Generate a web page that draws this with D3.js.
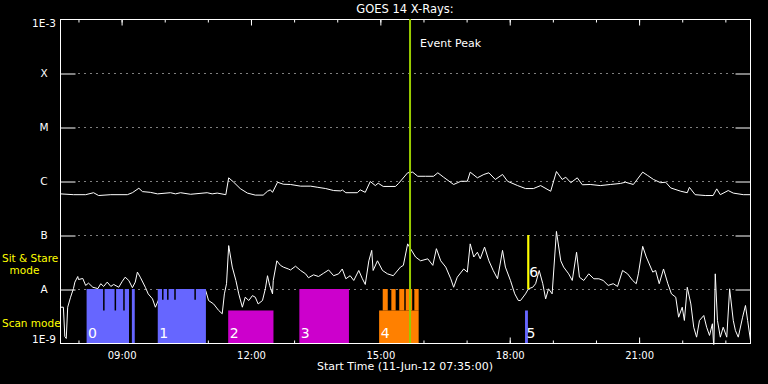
<!DOCTYPE html>
<html lang="en">
<head>
<meta charset="UTF-8">
<title>GOES 14 X-Rays</title>
<script src="https://cdn.jsdelivr.net/npm/d3@7"></script>
<style>
  body { margin: 0; background: #000; }
  svg { display: block; }
  text { font-family: "DejaVu Sans", sans-serif; fill: #fff; }
</style>
</head>
<body>
<svg id="chart" width="768" height="384"></svg>
<script>
const day = "2012-06-11";
const startTime = "07:35";
const endTime = "23:35";
const peakTime = "15:42";

const levelNames = ["1E-9", "A", "B", "C", "M", "X", "1E-3"];
const levelFlux = [1e-9, 1e-8, 1e-7, 1e-6, 1e-5, 1e-4, 1e-3];

// 1-8 A channel
const longTimes = ["07:35","07:53","08:10","08:21","08:28","08:45","09:08","09:15","09:24","09:29","09:40","09:50","10:08","10:15","10:22","10:36","10:59","11:06","11:13","11:25","11:29","11:36","11:45","11:55","12:06","12:17","12:23","12:27","12:30","12:37","12:45","12:55","13:09","13:23","13:33","13:44","13:55","14:05","14:07","14:12","14:28","14:32","14:39","14:46","14:53","14:57","15:04","15:21","15:25","15:38","15:45","15:52","16:03","16:14","16:20","16:28","16:42","16:52","17:01","17:05","17:15","17:24","17:31","17:40","17:50","17:57","18:11","18:22","18:33","18:43","18:57","19:05","19:13","19:18","19:25","19:34","19:41","19:52","20:06","20:20","20:34","20:41","20:52","21:05","21:12","21:20","21:30","21:37","21:44","21:58","22:07","22:10","22:18","22:32","22:43","22:48","22:53","23:04","23:11","23:25","23:35"];
const longFlux = [5.9e-7,5.7e-7,5.7e-7,6.2e-7,5.5e-7,5.7e-7,5.7e-7,6.2e-7,7.5e-7,6.5e-7,6.3e-7,5.9e-7,6.2e-7,5.9e-7,6.2e-7,5.8e-7,6.2e-7,5.9e-7,6.1e-7,5.7e-7,1.17e-6,9.7e-7,7.4e-7,6.1e-7,5.6e-7,5.6e-7,6.6e-7,7.0e-7,6.3e-7,9.7e-7,8.9e-7,8.8e-7,8.2e-7,8.2e-7,7.8e-7,7.4e-7,6.8e-7,6.7e-7,7.0e-7,6.2e-7,6.2e-7,7.0e-7,6.3e-7,1.0e-6,8.4e-7,9.3e-7,8.1e-7,8.1e-7,9.1e-7,1.45e-6,1.49e-6,1.25e-6,1.25e-6,1.25e-6,1.45e-6,1.2e-6,8.8e-7,1.01e-6,1.01e-6,1.49e-6,1.17e-6,1.35e-6,1.45e-6,1.09e-6,1.35e-6,1.01e-6,8.4e-7,7.4e-7,7.4e-7,8.4e-7,6.6e-7,1.53e-6,1.09e-6,1.2e-6,9.5e-7,1.17e-6,8.7e-7,8.8e-7,8.4e-7,8.8e-7,9.2e-7,9.7e-7,8.8e-7,1.49e-6,1.29e-6,1.09e-6,9.5e-7,9.7e-7,7.6e-7,6.6e-7,6.2e-7,7.8e-7,5.7e-7,5.5e-7,5.5e-7,7.3e-7,5.7e-7,6.8e-7,6.1e-7,5.7e-7,5.7e-7];

// 0.5-4 A channel
const shortTimes = ["07:35","07:39","07:41","07:43","07:45","07:49","07:53","07:55","07:59","08:00","08:06","08:10","08:14","08:20","08:27","08:31","08:35","08:40","08:45","08:49","08:56","09:01","09:05","09:10","09:15","09:19","09:22","09:26","09:33","09:37","09:43","09:47","09:51","09:57","10:01","10:05","10:11","10:15","10:19","10:25","10:29","10:33","10:39","10:43","10:46","10:48","10:53","10:57","11:01","11:08","11:15","11:20","11:23","11:26","11:29","11:34","11:39","11:43","11:48","11:52","11:57","12:02","12:06","12:10","12:16","12:20","12:23","12:26","12:30","12:31","12:36","12:41","12:45","12:52","12:55","13:02","13:09","13:16","13:20","13:27","13:34","13:41","13:48","13:55","14:02","14:07","14:12","14:18","14:23","14:30","14:35","14:39","14:44","14:48","14:50","14:56","15:03","15:10","15:18","15:28","15:32","15:38","15:42","15:49","15:56","16:06","16:13","16:18","16:24","16:31","16:38","16:42","16:47","16:56","17:01","17:05","17:10","17:15","17:19","17:25","17:31","17:37","17:43","17:50","17:54","18:01","18:07","18:12","18:15","18:22","18:26","18:32","18:36","18:41","18:46","18:50","18:54","18:59","19:05","19:11","19:15","19:22","19:27","19:33","19:37","19:43","19:50","19:57","20:04","20:10","20:17","20:24","20:30","20:37","20:44","20:51","20:56","20:59","21:05","21:10","21:19","21:23","21:28","21:34","21:40","21:45","21:51","21:55","22:00","22:03","22:07","22:12","22:16","22:20","22:24","22:30","22:34","22:38","22:42","22:44","22:46","22:49","22:53","22:57","23:02","23:06","23:11","23:14","23:18","23:24","23:28","23:31","23:35"];
const shortFlux = [4.7e-9,4.7e-9,1.35e-9,1.24e-9,4.7e-9,7.2e-9,1.04e-8,1.37e-8,1.74e-8,1.53e-8,1.6e-8,1.19e-8,1.31e-8,1.1e-8,1.04e-8,1.28e-8,1.14e-8,1.37e-8,1.14e-8,1.24e-8,1.1e-8,1.42e-8,1.69e-8,1.47e-8,1.08e-8,1.37e-8,2.1e-8,1.69e-8,1.1e-8,8.3e-9,6.7e-9,4.7e-9,6.25e-9,9.6e-9,4.7e-9,7.2e-9,5.4e-9,8.9e-9,5.4e-9,8.3e-9,5.8e-9,8.9e-9,4.7e-9,7.2e-9,1.74e-9,6.25e-9,8.9e-9,9.6e-9,6.25e-9,5.4e-9,4.1e-9,3.55e-9,8.3e-9,1.28e-8,6.5e-8,2.6e-8,1.47e-8,8.3e-9,4.7e-9,7.2e-9,6.25e-9,7.7e-9,7.2e-9,5.4e-9,6.25e-9,1.03e-8,1.8e-8,1.19e-8,8.3e-9,1.47e-8,3.4e-8,2.8e-8,2.6e-8,2.4e-8,2.3e-8,2.7e-8,2.25e-8,1.95e-8,1.65e-8,1.87e-8,1.74e-8,2.0e-8,2.3e-8,1.8e-8,1.95e-8,2.4e-8,1.58e-8,1.8e-8,1.47e-8,2.25e-8,1.58e-8,1.24e-8,3.4e-8,5.3e-8,2.25e-8,3.4e-8,2.25e-8,1.95e-8,1.8e-8,2.6e-8,2.8e-8,7.0e-8,5.7e-8,4.0e-8,3.4e-8,3.7e-8,2.8e-8,5.7e-8,3.4e-8,2.6e-8,1.58e-8,1.1e-8,1.69e-8,2.4e-8,2.1e-8,7.0e-8,4.0e-8,4.9e-8,3.7e-8,6.1e-8,3.4e-8,2.25e-8,1.58e-8,5.3e-8,2.6e-8,1.47e-8,8.3e-9,6.25e-9,6.25e-9,8.3e-9,1.03e-8,1.1e-8,1.28e-8,2.25e-8,1.28e-8,6.7e-9,1.03e-8,8.3e-9,1.19e-7,3.4e-8,2.6e-8,1.95e-8,1.47e-8,4.9e-8,1.69e-8,1.47e-8,1.95e-8,1.58e-8,1.58e-8,1.47e-8,1.19e-8,1.28e-8,1.14e-8,2.25e-8,1.95e-8,1.47e-8,1.28e-8,1.95e-8,6.3e-8,4.0e-8,2.1e-8,2.25e-8,1.28e-8,2.4e-8,1.28e-8,8.3e-9,7.2e-9,3.07e-9,4.7e-9,2.67e-9,1.1e-8,5.4e-9,2.0e-9,1.31e-9,2.67e-9,3.3e-9,2.0e-9,1.41e-9,2.32e-9,8e-10,1.95e-8,2.67e-9,1.31e-9,2.0e-9,1.31e-9,1.03e-8,2.67e-9,1.74e-9,1.31e-9,3.07e-9,5.06e-9,2.67e-9,1.14e-9];

// observation blocks: program number, start/end time, flux range of the bar
const obsProgram = [0, 0, 1, 2, 3, 4, 4, 4, 4, 4, 4, 5, 6];
const obsStart = ["08:12","09:15","09:51","11:29","13:08","14:59","15:04","15:16","15:27","15:36","15:48","18:22","18:25"];
const obsEnd   = ["09:11","09:19","10:58","12:32","14:17","15:54","15:11","15:22","15:34","15:45","15:54","18:26","18:28"];
const obsTop    = [1e-8, 1e-8, 1e-8, 4e-9, 1e-8, 4e-9, 1e-8, 1e-8, 1e-8, 1e-8, 1e-8, 4e-9, 1e-7];
const obsBottom = [1e-9, 1e-9, 1e-9, 1e-9, 1e-9, 1e-9, 4e-9, 4e-9, 4e-9, 4e-9, 4e-9, 1e-9, 1e-8];

// short data gaps inside blocks 0 and 1
const gapTimes = ["08:36","08:52","09:04","09:58","10:05","10:15","10:43"];
const gapDepth = [4e-9, 4e-9, 4e-9, 6.3e-9, 6.3e-9, 6.3e-9, 6.3e-9];

const programColor = ["#6666ff", "#6666ff", "#cc00cc", "#cc00cc", "#ff8000", "#6666ff", "#ffff00"];

const parse = s => d3.utcParse("%Y-%m-%d %H:%M")(day + " " + s);

const pL = 60, pR = 750, pT = 19, pB = 343;

const x = d3.scaleUtc()
    .domain([parse(startTime), parse(endTime)])
    .range([pL, pR]);
const y = d3.scaleLog()
    .domain([1e-9, 1e-3])
    .range([pB, pT]);

const svg = d3.select("#chart");
svg.append("rect").attr("width", 768).attr("height", 384).attr("fill", "#000");

svg.append("clipPath").attr("id", "plot")
  .append("rect")
    .attr("x", pL).attr("y", pT)
    .attr("width", pR - pL).attr("height", pB - pT + 1);

const g = svg.append("g").attr("transform", "translate(0.5,0.5)");

// dotted level lines with short solid ticks at both ends
const levels = levelFlux.slice(1, -1);
g.selectAll("line.dots").data(levels).enter().append("line")
    .attr("class", "dots")
    .attr("x1", pL + 18).attr("x2", pR - 15)
    .attr("y1", d => Math.round(y(d))).attr("y2", d => Math.round(y(d)))
    .attr("stroke", "#fff").attr("stroke-dasharray", "1 5");

const yAxisL = d3.axisLeft(y).tickValues(levels).tickSize(-15).tickFormat("");
const yAxisR = d3.axisRight(y).tickValues(levels).tickSize(-15).tickFormat("");
g.append("g").attr("transform", `translate(${pL},0)`).call(yAxisL);
g.append("g").attr("transform", `translate(${pR},0)`).call(yAxisR);

// observation bars
const obs = obsProgram.map((p, i) => ({
  p: p, t0: parse(obsStart[i]), t1: parse(obsEnd[i]), hi: obsTop[i], lo: obsBottom[i]
}));
svg.append("g").attr("clip-path", "url(#plot)")
  .selectAll("rect").data(obs.filter(d => d.p !== 6)).enter().append("rect")
    .attr("x", d => x(d.t0))
    .attr("width", d => x(d.t1) - x(d.t0))
    .attr("y", d => y(d.hi))
    .attr("height", d => y(d.lo) - y(d.hi))
    .attr("fill", d => programColor[d.p]);

const gaps = gapTimes.map((t, i) => ({ t: parse(t), depth: gapDepth[i] }));
svg.append("g").selectAll("line").data(gaps).enter().append("line")
    .attr("x1", d => x(d.t)).attr("x2", d => x(d.t))
    .attr("y1", y(1e-8)).attr("y2", d => y(d.depth))
    .attr("stroke", "#000").attr("stroke-width", 1.5);

// flux curves
const line = d3.line().x(d => x(d[0])).y(d => y(d[1]));
const series = [
  d3.zip(longTimes.map(parse), longFlux),
  d3.zip(shortTimes.map(parse), shortFlux)
];
g.append("g").attr("clip-path", "url(#plot)")
  .selectAll("path").data(series).enter().append("path")
    .attr("d", line)
    .attr("fill", "none")
    .attr("stroke", "#fff")
    .attr("stroke-width", 1)
    .attr("stroke-linejoin", "round");

// sit & stare bar drawn over the curve
svg.append("g").selectAll("rect").data(obs.filter(d => d.p === 6)).enter().append("rect")
    .attr("x", d => x(d.t0))
    .attr("width", d => x(d.t1) - x(d.t0))
    .attr("y", d => y(d.hi))
    .attr("height", d => y(d.lo) - y(d.hi))
    .attr("fill", d => programColor[d.p]);

// program numbers at the start of each program
const firsts = obs.filter((d, i) => obsProgram.indexOf(d.p) === i);
svg.append("g").selectAll("text").data(firsts).enter().append("text")
    .attr("x", d => x(d.t0) + (d.p === 6 ? 2 : 1.5))
    .attr("y", d => d.p === 6 ? y(d.lo) - 12 : y(d.lo) - 5)
    .attr("font-size", 14)
    .text(d => d.p);

// event peak
const px = x(parse(peakTime));
svg.append("line")
    .attr("x1", px).attr("x2", px).attr("y1", pT).attr("y2", pB)
    .attr("stroke", "#99cc00").attr("stroke-width", 2);
svg.append("text").attr("x", px + 10).attr("y", 47)
    .attr("font-size", 11).text("Event Peak");

// frame
g.append("rect")
    .attr("x", pL).attr("y", pT)
    .attr("width", pR - pL).attr("height", pB - pT)
    .attr("fill", "none").attr("stroke", "#fff");

// time ticks
const majors = d3.utcHour.every(3);
const xBottom = d3.axisBottom(x).ticks(majors).tickSize(-6).tickPadding(8)
    .tickFormat(d3.utcFormat("%H:%M"));
const xBottomMinor = d3.axisBottom(x).ticks(d3.utcHour.every(1)).tickSize(-3).tickFormat("");
const xTop = d3.axisTop(x).ticks(majors).tickSize(-6).tickFormat("");
const xTopMinor = d3.axisTop(x).ticks(d3.utcHour.every(1)).tickSize(-3).tickFormat("");
g.append("g").attr("transform", `translate(0,${pB})`).call(xBottomMinor);
g.append("g").attr("transform", `translate(0,${pB})`).call(xBottom);
g.append("g").attr("transform", `translate(0,${pT})`).call(xTopMinor);
g.append("g").attr("transform", `translate(0,${pT})`).call(xTop);

svg.selectAll(".domain").remove();
svg.selectAll(".tick line").attr("stroke", "#fff");
svg.selectAll(".tick text")
    .attr("fill", "#fff").attr("font-size", 10)
    .attr("font-family", "DejaVu Sans, sans-serif");

// level labels
svg.append("g").selectAll("text").data(levelNames).enter().append("text")
    .attr("x", 44)
    .attr("y", (d, i) => y(levelFlux[i]))
    .attr("dy", (d, i) => i === levelNames.length - 1 ? "0.75em" : (i === 0 ? "0" : "0.38em"))
    .attr("text-anchor", "middle")
    .attr("font-size", 10.5)
    .text(d => d);

// mode labels
const modeText = svg.append("g").attr("font-size", 10.5);
modeText.append("text").attr("x", 2).attr("y", 262).style("fill", "#ffff00").text("Sit & Stare");
modeText.append("text").attr("x", 24.5).attr("y", 274).attr("text-anchor", "middle").style("fill", "#ffff00").text("mode");
modeText.append("text").attr("x", 2).attr("y", 327).style("fill", "#ffff00").text("Scan mode");

// title and time label
svg.append("text").attr("x", (pL + pR) / 2).attr("y", 13)
    .attr("text-anchor", "middle").attr("font-size", 11.5).text("GOES 14 X-Rays:");
svg.append("text").attr("x", (pL + pR) / 2).attr("y", 370)
    .attr("text-anchor", "middle").attr("font-size", 11)
    .text("Start Time (" + "11-Jun-12" + " " + startTime + ":00)");
</script>
</body>
</html>
